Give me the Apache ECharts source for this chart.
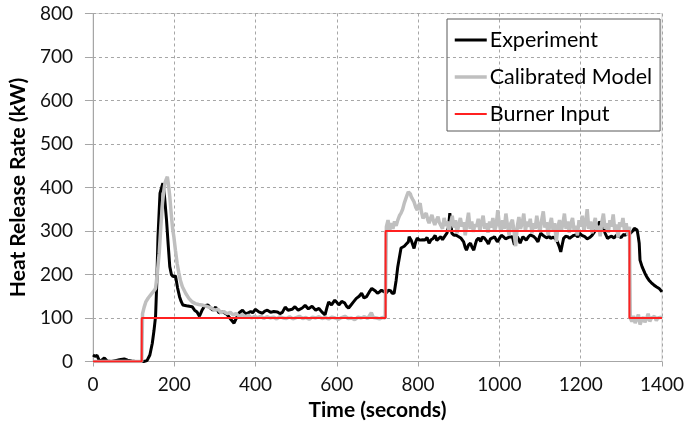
<!DOCTYPE html>
<html>
<head>
<meta charset="utf-8">
<script src="https://cdn.jsdelivr.net/npm/echarts@6/dist/echarts.min.js"></script>
<style>
  html, body { margin: 0; padding: 0; background: #fff; }
  #chart { width: 687px; height: 433px; }
</style>
</head>
<body>
<div id="chart"></div>
<script>
// Experiment (black)
const expTime = [0, 5, 10, 15, 20, 28, 35, 45, 55, 65, 77, 85, 95, 105, 115, 125, 133, 140, 146, 150, 154, 157, 160, 165, 169, 172, 176, 181, 185, 189, 193, 197, 203, 208, 213, 217, 221, 230, 237, 244, 250, 256, 262, 268, 275, 283,
  290, 295, 302, 310, 320, 330, 340, 347, 353, 360, 368, 375, 380, 388, 393, 400, 408, 417, 423, 429, 437, 445, 454, 460, 466, 473, 480, 490, 497, 505, 515, 522, 530, 539, 548, 556, 563, 571, 576, 580, 587, 595, 600, 605, 612, 619, 624, 629, 635, 641, 648, 655, 661, 667, 673, 680, 686, 690, 695, 700, 705, 710, 717, 722, 727, 733, 736, 741,
  746, 750, 755, 758, 762, 766, 771, 776, 778, 783, 787, 790, 794, 798, 803, 807, 812, 817, 822, 827, 832, 837, 842, 846, 851, 856, 860, 863, 867, 871, 875, 878, 881, 883, 888, 893, 898, 905, 908, 912, 916, 919, 924, 929, 933, 937, 941, 944, 949, 954, 958, 963, 968, 973, 978, 983, 988, 992, 995,
  1000, 1005, 1010, 1015, 1019, 1024, 1028, 1032, 1035, 1037, 1041, 1044, 1048, 1051, 1055, 1058, 1062, 1066, 1071, 1076, 1080, 1085, 1090, 1095, 1099, 1102, 1107, 1112, 1117, 1122, 1126, 1129, 1133, 1136, 1140, 1144, 1148, 1151, 1155, 1158, 1163, 1168, 1173, 1178, 1183, 1188, 1193, 1197,
  1203, 1210, 1216, 1222, 1228, 1234, 1240, 1246, 1250, 1254, 1260, 1266, 1271, 1276, 1282, 1288, 1295, 1300, 1305, 1310, 1315, 1320, 1324, 1328, 1332, 1335, 1339, 1342, 1344, 1346, 1351, 1358, 1363, 1368, 1374, 1380, 1386, 1393, 1400];
const expHrr = [15, 12, 14, 3, 2, 8, 1, 0, 2, 4, 6, 3, 1, 0, 0, 0, 2, 15, 42, 70, 103, 180, 287, 387, 400, 410, 380, 325, 270, 218, 200, 195, 197, 170, 149, 138, 130, 128, 127, 126, 118, 114, 104, 117, 128, 130,
  122, 118, 125, 112, 114, 108, 96, 88, 100, 112, 118, 110, 111, 115, 112, 120, 114, 111, 116, 118, 113, 115, 114, 110, 113, 125, 118, 120, 126, 118, 123, 129, 121, 127, 118, 122, 114, 107, 125, 137, 130, 141, 136, 130, 138, 135, 127, 123, 130, 137, 145, 150, 157, 146, 149, 160, 168, 172, 162, 157, 160, 164, 160, 158, 164, 162, 157, 157,
  187, 218, 245, 261, 263, 265, 270, 275, 287, 279, 268, 260, 275, 284, 279, 275, 280, 279, 285, 272, 280, 283, 290, 278, 283, 287, 280, 284, 290, 295, 310, 341, 315, 295, 290, 291, 288, 284, 280, 275, 262, 256, 268, 272, 262, 256, 270, 279, 284, 276, 286, 284, 278, 270, 282, 284, 287, 280, 275,
  283, 290, 287, 282, 279, 286, 290, 287, 275, 268, 282, 287, 280, 272, 281, 287, 285, 279, 286, 291, 288, 287, 282, 275, 288, 295, 290, 287, 284, 288, 283, 279, 286, 287, 280, 272, 262, 252, 270, 283, 288, 287, 283, 287, 290, 291, 286, 295,
  290, 287, 282, 285, 290, 298, 305, 321, 318, 314, 295, 283, 286, 288, 284, 290, 287, 285, 292, 290, 295, 293, 295, 300, 306, 308, 302, 285, 272, 233, 218, 203, 194, 187, 181, 176, 172, 168, 160];

// Calibrated Model (grey)
const modelTime = [0, 60, 120, 122, 126, 130, 136, 142, 148, 154, 158, 163, 167, 171, 174, 177, 180, 183, 186, 189, 193, 196, 199, 203, 207, 211, 215, 220, 228, 236, 244, 252, 260, 268, 276, 285, 293,
  300, 308, 315, 322, 330, 338, 345, 352, 360, 368, 375, 383, 390, 398, 405, 413, 420, 428, 436, 444, 452, 460, 468, 476, 484, 492, 500, 508, 516, 524, 532, 540, 548, 556, 564, 572, 580, 588, 596, 604, 612, 620, 628, 636, 644, 652, 660, 668, 676, 685, 690, 698, 705, 712, 719,
  722, 726, 730, 734, 738, 742, 746, 750, 754, 758, 762, 766, 770, 773, 776, 778, 781, 783, 787, 790, 794, 798, 801, 805, 808, 812, 816, 820, 824, 827, 831, 834, 838, 841, 845, 849, 852, 856, 860, 864, 868, 872, 876, 880, 884, 888, 892, 896,
  900, 904, 908, 912, 916, 920, 924, 928, 932, 936, 940, 944, 948, 952, 956, 960, 964, 968, 972, 976, 980, 984, 988, 992, 996,
  1000, 1004, 1008, 1012, 1016, 1020, 1024, 1028, 1032, 1036, 1040, 1044, 1048, 1052, 1056, 1060, 1064, 1068, 1072, 1076, 1080, 1084, 1088, 1092, 1096,
  1100, 1104, 1108, 1112, 1116, 1120, 1124, 1128, 1132, 1136, 1140, 1144, 1148, 1152, 1156, 1160, 1164, 1168, 1172, 1176, 1180, 1184, 1188, 1192, 1196,
  1200, 1204, 1208, 1212, 1216, 1220, 1224, 1228, 1232, 1236, 1240, 1244, 1248, 1252, 1256, 1260, 1264, 1268, 1272, 1276, 1280, 1284, 1288, 1292, 1296,
  1300, 1304, 1308, 1312, 1316, 1320, 1322, 1326, 1330, 1334, 1338, 1342, 1346, 1350, 1354, 1358, 1362, 1366, 1370, 1374, 1378, 1382, 1386, 1390, 1394, 1398, 1400];
const modelHrr = [0, 0, 0, 110, 125, 137, 146, 153, 160, 168, 200, 249, 310, 364, 390, 410, 418, 425, 405, 379, 335, 305, 287, 255, 226, 205, 187, 172, 157, 145, 137, 133, 131, 130, 128, 125, 122,
  118, 120, 112, 115, 110, 113, 107, 110, 104, 108, 103, 106, 100, 104, 101, 104, 99, 103, 100, 102, 98, 103, 100, 99, 103, 98, 101, 104, 99, 101, 97, 102, 100, 103, 99, 101, 98, 102, 100, 97, 101, 104, 99, 100, 96, 102, 100, 103, 99, 112, 101, 100, 98, 101, 100,
  310, 325, 300, 318, 305, 322, 312, 325, 335, 341, 350, 364, 375, 383, 390, 394, 385, 379, 372, 367, 355, 348, 358, 364, 345, 329, 336, 341, 325, 318, 330, 337, 322, 314, 325, 333, 320, 318, 305, 330, 312, 322, 300, 318, 335, 308, 325, 295,
  315, 330, 310, 320, 290, 318, 342, 305, 322, 298, 315, 310, 328, 300, 320, 335, 305, 318, 296, 322, 308, 330, 300, 312, 348,
  315, 298, 325, 305, 340, 312, 290, 318, 326, 300, 265, 310, 332, 305, 318, 340, 300, 322, 310, 328, 295, 318, 305, 335, 312,
  298, 325, 345, 308, 320, 290, 315, 330, 302, 318, 275, 310, 325, 300, 315, 340, 305, 322, 296, 318, 330, 300, 312, 290, 325,
  310, 335, 300, 318, 350, 305, 322, 295, 315, 330, 300, 312, 288, 320, 340, 305, 318, 296, 325, 310, 338, 300, 315, 285, 320,
  310, 330, 300, 318, 290, 310, 100, 92, 105, 88, 98, 108, 85, 95, 102, 90, 98, 110, 92, 100, 96, 104, 94, 100, 97, 102, 99];

// Burner Input (red)
const burnerTime = [0, 120, 120, 720, 720, 1320, 1320, 1400];
const burnerHrr = [0, 0, 100, 100, 300, 300, 100, 100];

const xTicks = [0, 200, 400, 600, 800, 1000, 1200, 1400];
const yTicks = [0, 100, 200, 300, 400, 500, 600, 700, 800];

const zip = (t, v) => t.map((x, i) => [x, v[i]]);

const font = "Lato";
const chart = echarts.init(document.getElementById("chart"));
const option = {
  animation: false,
  backgroundColor: "#fff",
  textStyle: { fontFamily: font },
  grid: {
    left: 89,
    right: 24,
    top: 13.5,
    bottom: 71.5,
    show: true,
    borderColor: "#d9d9d9",
    borderWidth: 1
  },
  legend: {
    orient: "vertical",
    left: 447,
    top: 19,
    padding: [9, 8, 5, 6],
    itemGap: 13,
    itemWidth: 32,
    itemHeight: 24,
    borderColor: "#595959",
    borderWidth: 1,
    itemStyle: { opacity: 0 },
    textStyle: { fontSize: 21.5, color: "#000", fontFamily: font, padding: [0, 0, 0, -2], lineHeight: 24 },
    data: [
      { name: "Experiment", lineStyle: { width: 3, color: "#000" } },
      { name: "Calibrated Model", lineStyle: { width: 3.5, color: "#bfbfbf" } },
      { name: "Burner Input", lineStyle: { width: 2, color: "#ff2020" } }
    ]
  },
  xAxis: {
    type: "value",
    min: 0,
    max: 1400,
    interval: 200,
    name: "Time (seconds)",
    nameLocation: "middle",
    nameGap: 38,
    nameTextStyle: { fontSize: 21, fontWeight: "bold", color: "#000" },
    axisLine: { lineStyle: { color: "#a6a6a6", width: 1 } },
    axisTick: { show: true, length: 5, lineStyle: { color: "#a6a6a6" } },
    axisLabel: {
      fontSize: 19,
      color: "#111",
      margin: 14,
      formatter: v => (xTicks.includes(v) ? String(v) : "")
    },
    splitLine: { show: true, lineStyle: { color: "#a6a6a6", type: [3, 3], width: 1 } }
  },
  yAxis: {
    type: "value",
    min: 0,
    max: 800,
    interval: 100,
    name: "Heat Release Rate (kW)",
    nameLocation: "middle",
    nameGap: 59,
    nameTextStyle: { fontSize: 21, fontWeight: "bold", color: "#000" },
    axisLine: { show: true, lineStyle: { color: "#a6a6a6", width: 1 } },
    axisTick: { show: true, length: 8, lineStyle: { color: "#a6a6a6" } },
    axisLabel: {
      fontSize: 19,
      color: "#111",
      margin: 20,
      formatter: v => (yTicks.includes(v) ? String(v) : "")
    },
    splitLine: { show: true, lineStyle: { color: "#a6a6a6", type: [3, 3], width: 1 } }
  },
  series: [
    {
      name: "Experiment",
      type: "line",
      symbol: "none",
      color: "#000",
      lineStyle: { color: "#000", width: 3 },
      data: zip(expTime, expHrr)
    },
    {
      name: "Calibrated Model",
      type: "line",
      symbol: "none",
      color: "#bfbfbf",
      lineStyle: { color: "#bfbfbf", width: 3.5 },
      data: zip(modelTime, modelHrr)
    },
    {
      name: "Burner Input",
      type: "line",
      symbol: "none",
      color: "#ff2020",
      lineStyle: { color: "#ff2020", width: 2 },
      data: zip(burnerTime, burnerHrr)
    }
  ]
};
chart.setOption(option);
</script>
</body>
</html>
